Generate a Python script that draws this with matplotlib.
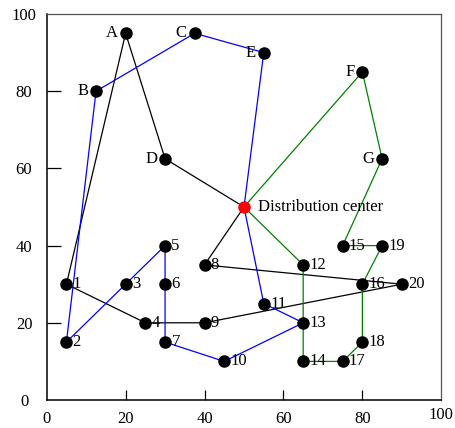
import matplotlib
matplotlib.use("Agg")
import matplotlib.pyplot as plt
import matplotlib.transforms as mtransforms

plt.rcParams['font.family'] = ['Liberation Serif', 'DejaVu Serif']

# Nodes
center_name = "Distribution center"
center_xy = (50, 50)

letter_names = ["A", "B", "C", "D", "E", "F", "G"]
letter_x = [20, 12.5, 37.5, 30, 55, 80, 85]
letter_y = [95, 80, 95, 62.5, 90, 85, 62.5]

num_names = [str(i) for i in range(1, 21)]
num_x = [5, 5, 20, 25, 30, 30, 30, 40, 40, 45, 55, 65, 65, 65, 75, 80, 75, 80, 85, 90]
num_y = [30, 15, 30, 20, 40, 30, 15, 35, 20, 10, 25, 35, 20, 10, 40, 30, 10, 15, 40, 30]

# Routes (all start and end at the distribution center "DC")
route_black = ["DC", "D", "A", "1", "4", "9", "20", "8", "DC"]
route_blue = ["DC", "E", "C", "B", "2", "3", "5", "6", "7", "10", "13", "11", "DC"]
route_green = ["DC", "F", "G", "15", "19", "16", "18", "17", "14", "13", "12", "DC"]
route_colors = ["black", "blue", "green"]

xticks = [0, 20, 40, 60, 80, 100]
yticks = [0, 20, 40, 60, 80, 100]

coords = {"DC": center_xy}
for n, x, y in zip(letter_names, letter_x, letter_y):
    coords[n] = (x, y)
for n, x, y in zip(num_names, num_x, num_y):
    coords[n] = (x, y)

fig = plt.figure(figsize=(4.56, 4.28), dpi=100)
ax = fig.add_axes([46.7 / 456, 28 / 428, (441.3 - 46.7) / 456, (400 - 14) / 428])

for route, col in zip([route_black, route_blue, route_green], route_colors):
    rx = [coords[n][0] for n in route]
    ry = [coords[n][1] for n in route]
    ax.plot(rx, ry, color=col, lw=0.9, zorder=1)

ax.plot(letter_x, letter_y, 'o', color='black', ms=8, zorder=2)
ax.plot(num_x, num_y, 'o', color='black', ms=8, zorder=2)
ax.plot([center_xy[0]], [center_xy[1]], 'o', color='red', ms=8, zorder=2)

fs = 12
for n, x, y in zip(letter_names, letter_x, letter_y):
    ax.text(x - 2, y, n, ha='right', va='center', fontsize=fs, zorder=3)
for n, x, y in zip(num_names, num_x, num_y):
    ax.text(x + 1.6, y, n, ha='left', va='center', fontsize=fs, zorder=3)
ax.text(center_xy[0] + 3.5, center_xy[1], center_name, ha='left', va='center', fontsize=fs, zorder=3)

ax.set_xlim(0, 100)
ax.set_ylim(0, 100)
ax.set_xticks(xticks)
ax.set_yticks(yticks)
ax.set_xticklabels([str(t) for t in xticks], fontsize=fs)
ax.set_yticklabels([str(t) for t in yticks], fontsize=fs)
ax.tick_params(axis='y', direction='in', length=10, width=0.9, pad=16.3, colors='black')
ax.tick_params(axis='x', direction='in', length=7, width=0.9, pad=8, colors='black')
for lab in ax.get_yticklabels():
    lab.set_ha('center')

# hide tick marks that sit on the spines (0 and 100)
for tick in ax.xaxis.get_major_ticks():
    if tick.get_loc() in (0, 100):
        tick.tick1line.set_visible(False)
for tick in ax.yaxis.get_major_ticks():
    if tick.get_loc() in (0, 100):
        tick.tick1line.set_visible(False)

# the "100" label on the x axis sits slightly higher in the reference
xlabs = ax.get_xticklabels()
off = mtransforms.ScaledTranslation(0, 4 / 100, fig.dpi_scale_trans)
xlabs[-1].set_transform(xlabs[-1].get_transform() + off)

ax.spines['left'].set_color('black')
ax.spines['bottom'].set_color('black')
ax.spines['left'].set_linewidth(1.1)
ax.spines['bottom'].set_linewidth(1.1)
ax.spines['top'].set_color('#555555')
ax.spines['right'].set_color('#555555')
ax.spines['top'].set_linewidth(0.9)
ax.spines['right'].set_linewidth(0.9)

fig.savefig("out.png", dpi=100)
